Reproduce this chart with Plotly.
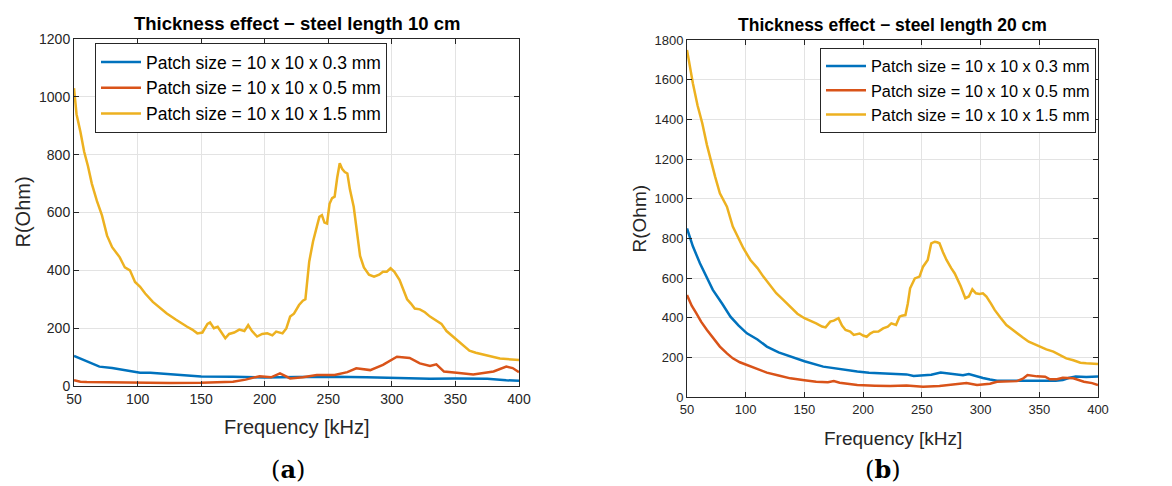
import plotly.graph_objects as go

# ---------------- data: (a) steel length 10 cm ----------------
f_a_03 = [50, 55, 60, 65, 70, 80, 86, 95, 102, 110, 125, 140, 150, 175, 200, 225, 254, 280, 306, 330, 350, 375, 390, 400]
r_a_03 = [104, 95, 85, 78, 67, 62, 58, 50, 46, 46, 42, 36, 33, 32, 29, 31, 32, 30, 27, 25, 26, 25, 20, 18]

f_a_05 = [50, 55, 60, 80, 100, 125, 150, 175, 185, 196, 205, 212, 220, 230, 241, 255, 265, 272, 283, 293,
          304, 314, 322, 330, 335, 341, 351, 364, 380, 390, 395, 400]
r_a_05 = [20, 15, 14, 12, 10, 10, 11, 15, 22, 34, 30, 44, 26, 30, 38, 38, 48, 61, 55, 73,
          101, 97, 78, 69, 75, 50, 46, 40, 50, 67, 62, 48]

f_a_15 = [50, 52, 55, 58, 61, 64, 68, 72, 76, 80, 86, 90, 94, 98, 102, 106, 112, 118, 123, 130,
          135, 139, 143, 147, 151, 155, 157, 160, 163, 166, 169, 172, 176, 180, 184, 187, 190, 194, 198, 202,
          206, 209, 212, 214, 217, 220, 223, 227, 230, 232, 235, 238, 241, 243, 245, 247, 249, 251, 253, 255,
          257, 259, 261, 263, 265, 267, 270, 273, 275, 278, 282, 286, 290, 293, 296, 299, 302, 306, 309, 312,
          315, 318, 322, 326, 330, 333, 336, 339, 343, 347, 351, 356, 361, 366, 370, 375, 380, 385, 390, 395, 400]
r_a_15 = [1030, 940, 880, 810, 760, 700, 640, 590, 520, 480, 445, 410, 400, 360, 343, 320, 291, 270, 251, 230,
          215, 205, 195, 182, 185, 215, 220, 200, 205, 185, 165, 180, 185, 195, 190, 211, 190, 171, 180, 182,
          175, 188, 185, 182, 199, 240, 250, 280, 295, 300, 430, 500, 551, 585, 591, 565, 562, 630, 650, 655,
          720, 770, 750, 740, 735, 680, 620, 520, 450, 410, 385, 378, 385, 395, 395, 407, 395, 367, 335, 300,
          285, 268, 265, 255, 240, 232, 225, 215, 190, 175, 159, 140, 122, 115, 110, 104, 100, 95, 94, 92, 90]

# ---------------- data: (b) steel length 20 cm ----------------
f_b_03 = [50, 55, 61, 66, 72, 80, 87, 94, 101, 110, 118, 128, 138, 150, 166, 180, 195, 205, 214, 225,
          237, 243, 250, 258, 266, 272, 279, 285, 290, 296, 302, 308, 314, 325, 336, 350, 364, 370, 375, 381, 390, 400]
r_b_03 = [850, 760, 674, 610, 540, 470, 405, 360, 321, 290, 254, 225, 203, 180, 153, 140, 128, 122, 120, 116,
          114, 106, 110, 112, 123, 118, 112, 110, 116, 105, 96, 88, 82, 82, 82, 85, 82, 86, 96, 103, 101, 103]

f_b_05 = [50, 54, 58, 62, 67, 72, 78, 84, 89, 95, 101, 110, 118, 128, 138, 150, 160, 170, 175, 180,
          195, 210, 223, 237, 251, 265, 280, 288, 297, 308, 314, 322, 331, 336, 340, 348, 355, 359, 365, 370,
          375, 379, 388, 395, 400]
r_b_05 = [514, 460, 422, 380, 338, 300, 254, 220, 195, 175, 161, 140, 123, 108, 94, 84, 77, 75, 80, 72,
          60, 57, 55, 58, 52, 55, 64, 70, 60, 67, 77, 80, 80, 92, 111, 104, 102, 89, 90, 97,
          96, 94, 77, 70, 60]

f_b_15 = [50, 55, 59, 63, 67, 70, 74, 78, 84, 89, 94, 98, 104, 110, 115, 120, 126, 132, 138, 144,
          150, 155, 160, 165, 168, 172, 175, 179, 182, 185, 189, 192, 197, 200, 203, 206, 209, 213, 217, 221,
          224, 228, 231, 233, 236, 238, 240, 244, 248, 251, 255, 258, 261, 263, 265, 268, 271, 275, 278, 283,
          287, 290, 293, 296, 299, 302, 305, 309, 312, 317, 322, 327, 332, 336, 341, 346, 351, 356, 362, 368,
          373, 379, 385, 390, 395, 400]
r_b_15 = [1750, 1582, 1470, 1380, 1270, 1195, 1110, 1027, 960, 859, 800, 750, 691, 650, 607, 570, 523, 490, 455, 420,
          397, 385, 371, 355, 351, 380, 385, 397, 360, 338, 330, 313, 320, 310, 304, 320, 329, 330, 346, 355,
          371, 363, 405, 410, 413, 470, 548, 598, 607, 657, 691, 775, 783, 780, 775, 730, 691, 650, 623, 560,
          498, 507, 543, 523, 520, 523, 506, 470, 439, 400, 363, 340, 320, 300, 279, 265, 254, 240, 229, 212,
          195, 185, 173, 170, 167, 166]

series_names = ["Patch size = 10 x 10 x 0.3 mm", "Patch size = 10 x 10 x 0.5 mm", "Patch size = 10 x 10 x 1.5 mm"]
colors = ["#0072BD", "#D95319", "#EDB120"]
x_ticks = [50, 100, 150, 200, 250, 300, 350, 400]
y_ticks_a = [0, 200, 400, 600, 800, 1000, 1200]
y_ticks_b = [0, 200, 400, 600, 800, 1000, 1200, 1400, 1600, 1800]

# the page body has an 8px margin, so the figure sits at (8, 8) in the window
OFF = 8
W, H = 1172 - OFF, 486 - OFF


def px(p):
    return (p - OFF) / W


def py(p):
    return 1 - (p - OFF) / H


fig = go.Figure()

data_a = [(f_a_03, r_a_03), (f_a_05, r_a_05), (f_a_15, r_a_15)]
data_b = [(f_b_03, r_b_03), (f_b_05, r_b_05), (f_b_15, r_b_15)]
for i, (fx, ry) in enumerate(data_a):
    fig.add_trace(go.Scatter(x=fx, y=ry, mode="lines", name=series_names[i],
                             line=dict(color=colors[i], width=2.5),
                             xaxis="x", yaxis="y", legend="legend"))
for i, (fx, ry) in enumerate(data_b):
    fig.add_trace(go.Scatter(x=fx, y=ry, mode="lines", name=series_names[i],
                             line=dict(color=colors[i], width=2.5),
                             xaxis="x2", yaxis="y2", legend="legend2"))

axis_common = dict(showline=True, linecolor="#262626", linewidth=1, mirror="ticks",
                   ticks="inside", ticklen=5, tickcolor="#262626", automargin=False,
                   showgrid=True, gridcolor="#e3e3e3", gridwidth=1, zeroline=False,
                   color="#262626")

# window-pixel geometry of the two plot boxes
L1, R1, T1, B1 = 74, 519, 39, 386
L2, R2, T2, B2 = 687, 1098, 40, 397

label_font = dict(family="Liberation Sans, Arial, sans-serif", color="#262626")
panel_font = dict(family="DejaVu Serif, Liberation Serif, serif", size=24, color="black")

fig.update_layout(
    width=W, height=H,
    margin=dict(l=0, r=0, t=0, b=0, autoexpand=False),
    paper_bgcolor="white", plot_bgcolor="white",
    font=dict(family="Liberation Sans, Arial, sans-serif", color="#262626"),
    xaxis=dict(domain=[px(L1), px(R1)], range=[50, 400], tickvals=x_ticks, anchor="y",
               tickfont=dict(size=14), **axis_common),
    yaxis=dict(domain=[py(B1), py(T1)], range=[0, 1200], tickvals=y_ticks_a, anchor="x",
               tickfont=dict(size=14), **axis_common),
    xaxis2=dict(domain=[px(L2), px(R2)], range=[50, 400], tickvals=x_ticks, anchor="y2",
                tickfont=dict(size=13), **axis_common),
    yaxis2=dict(domain=[py(B2), py(T2)], range=[0, 1800], tickvals=y_ticks_b, anchor="x2",
                tickfont=dict(size=13), **axis_common),
    legend=dict(x=px(95), y=py(43), xanchor="left", yanchor="top", itemwidth=40,
                bgcolor="white", bordercolor="#262626", borderwidth=1,
                font=dict(size=17.5, color="black")),
    legend2=dict(x=px(820), y=py(48), xanchor="left", yanchor="top", itemwidth=40,
                 bgcolor="white", bordercolor="#262626", borderwidth=1,
                 font=dict(size=16.3, color="black")),
    annotations=[
        dict(text="<b>Thickness effect \u2212 steel length 10 cm</b>", x=px((L1 + R1) / 2), y=py(24),
             xref="paper", yref="paper", showarrow=False, xanchor="center", yanchor="middle",
             font=dict(size=18.5, color="black")),
        dict(text="<b>Thickness effect \u2212 steel length 20 cm</b>", x=px((L2 + R2) / 2), y=py(25),
             xref="paper", yref="paper", showarrow=False, xanchor="center", yanchor="middle",
             font=dict(size=17.5, color="black")),
        # axis titles
        dict(text="Frequency [kHz]", x=px((L1 + R1) / 2), y=py(427), xref="paper", yref="paper",
             showarrow=False, xanchor="center", yanchor="middle", font=dict(size=20, **label_font)),
        dict(text="R(Ohm)", x=px(22), y=py((T1 + B1) / 2), xref="paper", yref="paper", textangle=-90,
             showarrow=False, xanchor="center", yanchor="middle", font=dict(size=20, **label_font)),
        dict(text="Frequency [kHz]", x=px((L2 + R2) / 2), y=py(438), xref="paper", yref="paper",
             showarrow=False, xanchor="center", yanchor="middle", font=dict(size=19, **label_font)),
        dict(text="R(Ohm)", x=px(639), y=py((T2 + B2) / 2), xref="paper", yref="paper", textangle=-90,
             showarrow=False, xanchor="center", yanchor="middle", font=dict(size=19, **label_font)),
        # panel labels
        dict(text="(<b>a</b>)", x=px(288), y=0, xref="paper", yref="paper", showarrow=False,
             xanchor="center", yanchor="bottom", font=panel_font),
        dict(text="(<b>b</b>)", x=px(883), y=0, xref="paper", yref="paper", showarrow=False,
             xanchor="center", yanchor="bottom", font=panel_font),
    ],
)

fig.write_html("out.html")
